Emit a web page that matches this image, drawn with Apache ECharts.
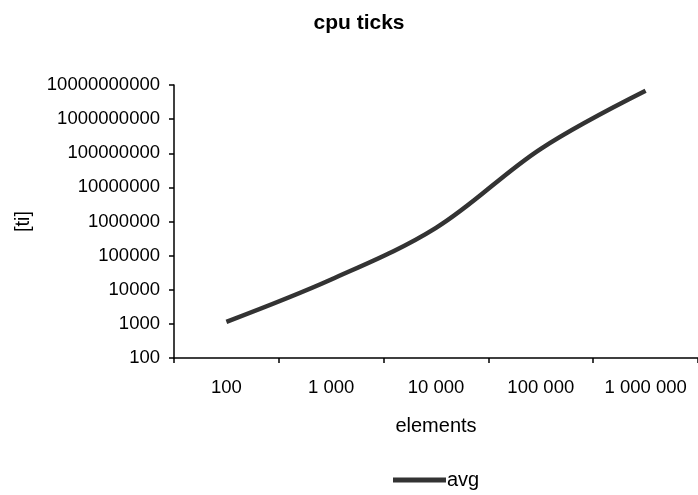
<!DOCTYPE html>
<html>
<head>
<meta charset="utf-8">
<script src="https://cdn.jsdelivr.net/npm/echarts@6/dist/echarts.min.js"></script>
<style>
html,body{margin:0;padding:0;background:#fff;}
#c{width:698px;height:495px;}
</style>
</head>
<body>
<div id="c"></div>
<script>
const categories = ['100', '1 000', '10 000', '100 000', '1 000 000'];
const avgValues = [1150, 20000, 650000, 135000000, 6800000000];
const seriesName = 'avg';
const titleText = 'cpu ticks';
const xName = 'elements';
const yName = '[ti]';

const FONT = 'Liberation Sans';
const chart = echarts.init(document.getElementById('c'), null, {renderer: 'canvas'});
chart.setOption({
  animation: false,
  backgroundColor: '#fff',
  title: {
    text: titleText,
    left: 354, top: 8, textAlign: 'center',
    textStyle: {fontFamily: FONT, fontSize: 21, fontWeight: 'bold', color: '#000'}
  },
  legend: {
    data: [{name: seriesName, icon: 'rect'}],
    left: 393, top: 470,
    itemWidth: 53, itemHeight: 5, itemGap: 10,
    padding: 0,
    itemStyle: {color: '#333'},
    textStyle: {fontFamily: FONT, fontSize: 20, color: '#000', padding: [0,0,0,-4]}
  },
  grid: {left: 174, right: -6, top: 85, bottom: 137, containLabel: false},
  xAxis: {
    type: 'category',
    data: categories,
    boundaryGap: true,
    name: xName,
    nameLocation: 'middle',
    nameGap: 58,
    nameTextStyle: {fontFamily: FONT, fontSize: 20, color: '#000'},
    axisLine: {lineStyle: {color: '#000', width: 1.5}},
    axisTick: {show: true, interval: 0, alignWithLabel: false, length: 5, lineStyle: {color: '#000', width: 1.5}},
    axisLabel: {interval: 0, hideOverlap: false, fontFamily: FONT, fontSize: 18.5, color: '#000', margin: 20},
    splitLine: {show: false}
  },
  yAxis: {
    type: 'log',
    logBase: 10,
    min: 100,
    max: 10000000000,
    name: yName,
    nameLocation: 'middle',
    nameGap: 141,
    nameTextStyle: {fontFamily: FONT, fontSize: 20, color: '#000'},
    axisLine: {show: true, lineStyle: {color: '#000', width: 1.5}},
    axisTick: {show: true, length: 5, lineStyle: {color: '#000', width: 1.5}},
    axisLabel: {fontFamily: FONT, fontSize: 18.5, color: '#000', margin: 14,
      formatter: function (v) { return String(Math.round(v)); }},
    splitLine: {show: false}
  },
  series: [{
    name: seriesName,
    type: 'line',
    data: avgValues,
    smooth: 0.35,
    symbol: 'none',
    lineStyle: {color: '#333', width: 4.5},
    itemStyle: {color: '#333'}
  }]
});
</script>
</body>
</html>
